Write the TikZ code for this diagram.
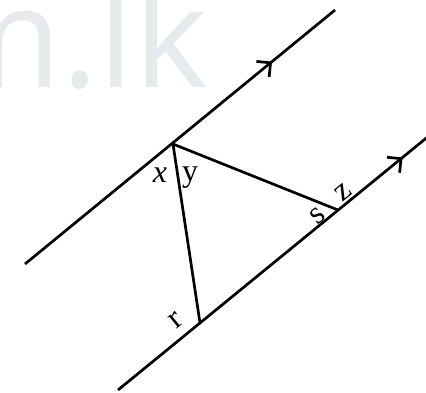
\documentclass[tikz,border=0pt]{standalone}
\usepackage{fontspec}
\setmainfont{Liberation Serif}
\newfontfamily\wmfont{Open Sans}
\usetikzlibrary{arrows.meta,decorations.markings}
\definecolor{wm}{HTML}{E6EAED}
\begin{document}
\begin{tikzpicture}[x=1pt,y=-1pt,
  ln/.style={line width=2.7pt},
  lbl/.style={font=\fontsize{32}{36}\selectfont, inner sep=0pt},
  arr/.style={postaction={decorate,decoration={markings,mark=at position #1 with {\arrow{Straight Barb[length=10pt,width=20pt]}}}}}
]
\useasboundingbox (0,0) rectangle (426,392);
\begin{scope}
\clip (0,0) rectangle (426,392);
\node[anchor=base east, text=wm, font=\wmfont\fontsize{140}{140}\selectfont, inner sep=0pt] (wm) at (208,87) {m.lk};
\coordinate (P1) at (25,264);
\coordinate (P2) at (335,10);
\coordinate (B1) at (118,390);
\coordinate (B2) at (430,135);
\coordinate (T) at (173,144);
\coordinate (R) at (200,323);
\coordinate (S) at (338,210);
\draw[ln, arr=0.797] (P1) -- (P2);
\draw[ln, arr=0.912] (B1) -- (B2);
\draw[ln] (R) -- (T) -- (S);
\node[lbl] (lx) at (160,175) {\itshape x};
\node[lbl] (ly) at (190,178) {y};
\node[lbl, rotate=39] (lz) at (343,192) {z};
\node[lbl, rotate=39] (ls) at (318,216) {s};
\node[lbl, rotate=39] (lr) at (176,320) {r};
\end{scope}
\end{tikzpicture}
\end{document}
